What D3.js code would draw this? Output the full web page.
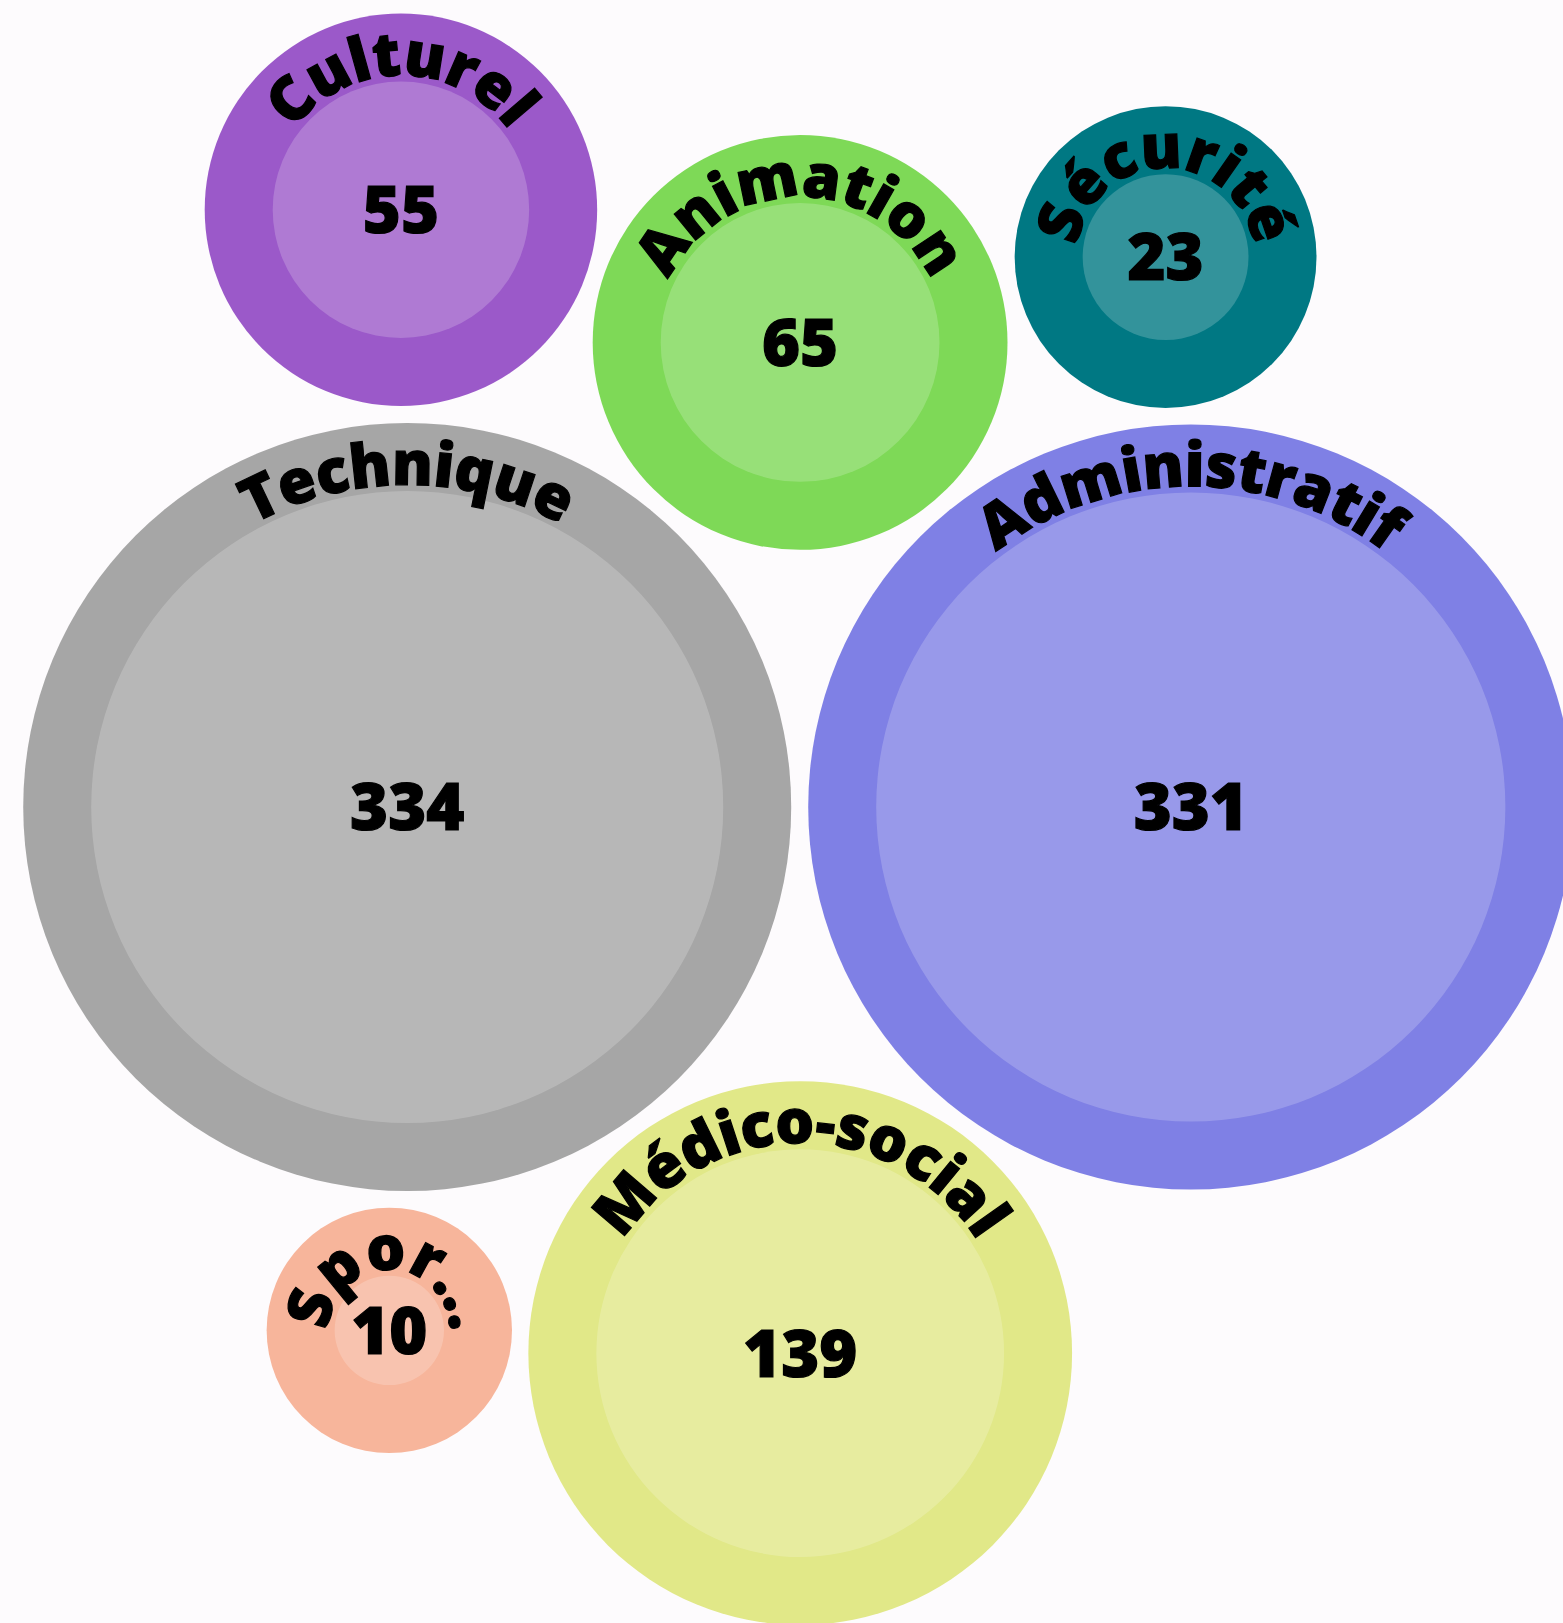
<!DOCTYPE html>
<html>
<head>
<meta charset="utf-8">
<script src="https://cdn.jsdelivr.net/npm/d3@7"></script>
<style>
  html, body { margin: 0; padding: 0; background: #fdfbfd; overflow: hidden; }
  svg { display: block; }
  text { font-family: 'Open Sans', sans-serif; font-weight: 800; fill: #000; stroke: #000; stroke-width: 1.2px; }
</style>
</head>
<body>
<div id="chart"></div>
<script>
const categories = ['Technique', 'Administratif', 'Médico-social', 'Animation', 'Culturel', 'Sécurité', 'Sport'];
const values = [334, 331, 139, 65, 55, 23, 10];
const palette = ['#a6a6a6', '#7f80e5', '#e1e888', '#7ed957', '#9b59c9', '#007883', '#f7b59b'];

// which two bubbles each one leans against, and on which side
const neighbours = [null, null,
  ['Technique', 'Administratif', 1],
  ['Technique', 'Administratif', -1],
  ['Technique', 'Animation', -1],
  ['Animation', 'Administratif', -1],
  ['Technique', 'Médico-social', 1]];

const width = 1563;
const height = 1623;
const ring = 68;
const gap = 17;
const anchor = [799, 807];

const rInner = d3.scaleSqrt().domain([0, d3.max(values)]).range([0, 316]);
const color = d3.scaleOrdinal().domain(categories).range(palette);

const nodes = categories.map((c, i) => ({
  name: c,
  value: values[i],
  inner: rInner(values[i]),
  r: rInner(values[i]) + ring
}));
const byName = new Map(nodes.map(n => [n.name, n]));

// two biggest side by side
const span = nodes[0].r + nodes[1].r + gap;
nodes[0].x = anchor[0] - span / 2; nodes[0].y = anchor[1];
nodes[1].x = anchor[0] + span / 2; nodes[1].y = anchor[1];

// the rest tangent to a pair
function place(n, a, b, side) {
  const da = a.r + n.r + gap, db = b.r + n.r + gap;
  const dx = b.x - a.x, dy = b.y - a.y;
  const d = Math.hypot(dx, dy);
  const l = (da * da - db * db + d * d) / (2 * d);
  const h = Math.sqrt(Math.max(0, da * da - l * l));
  const ux = dx / d, uy = dy / d;
  n.x = a.x + l * ux + side * h * -uy;
  n.y = a.y + l * uy + side * h * ux;
}
nodes.forEach((n, i) => {
  const p = neighbours[i];
  if (p) place(n, byName.get(p[0]), byName.get(p[1]), p[2]);
});

const svg = d3.select('#chart').append('svg')
  .attr('width', width)
  .attr('height', height);

const g = svg.selectAll('g.bubble')
  .data(nodes)
  .join('g')
  .attr('class', 'bubble')
  .attr('transform', d => `translate(${d.x},${d.y})`);

g.append('circle')
  .attr('r', d => d.r)
  .attr('fill', d => color(d.name));

g.append('circle')
  .attr('r', d => d.inner)
  .attr('fill', '#fff')
  .attr('fill-opacity', 0.2);

// label arc, full circle starting at the bottom so the middle is at the top
g.append('path')
  .attr('id', (d, i) => 'arc' + i)
  .attr('fill', 'none')
  .attr('d', d => {
    const r = d.inner + 6;
    return `M0,${r} A${r},${r} 0 1,1 0,${-r} A${r},${r} 0 1,1 0,${r}`;
  });

g.append('text')
  .style('font-size', '61px')
  .style('letter-spacing', '-0.5px')
  .append('textPath')
  .attr('href', (d, i) => '#arc' + i)
  .attr('startOffset', '50%')
  .attr('text-anchor', 'middle')
  .text(d => d.inner < 60 ? d.name.slice(0, 4) + '...' : d.name);

g.append('text')
  .attr('text-anchor', 'middle')
  .attr('dy', '0.36em')
  .style('font-size', '65px')
  .text(d => d.value);
</script>
</body>
</html>
